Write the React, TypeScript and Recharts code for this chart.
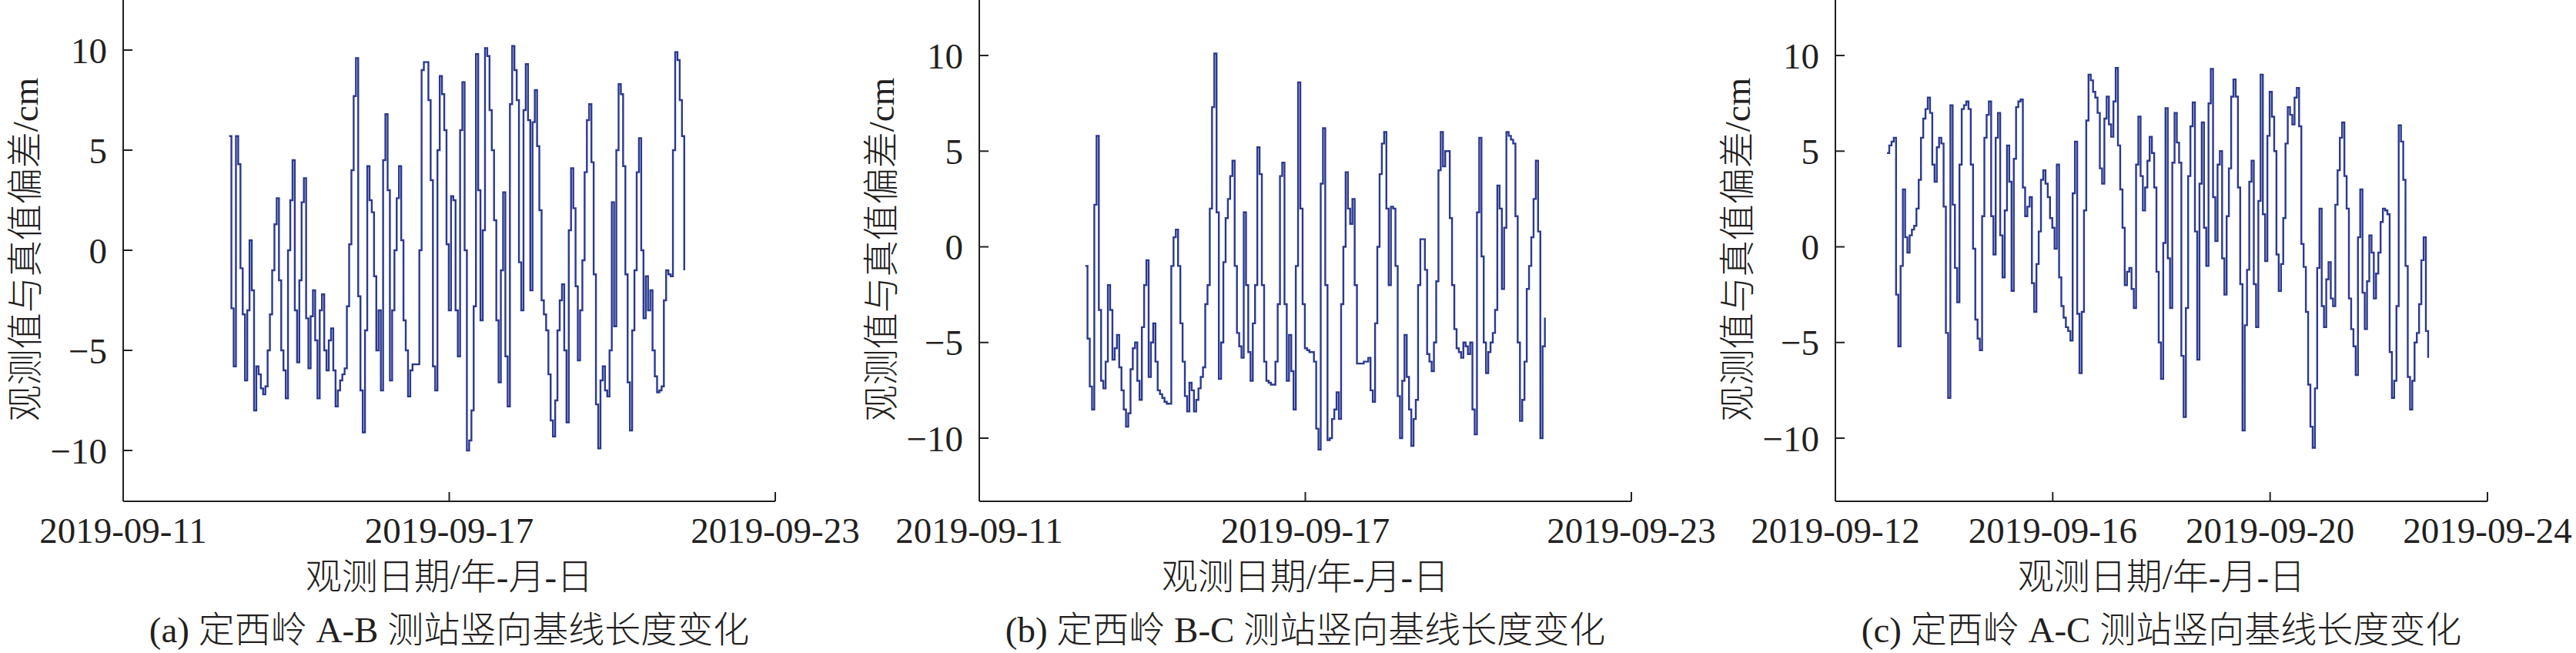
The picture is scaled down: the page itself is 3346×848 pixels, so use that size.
import { LineChart, Line, XAxis, YAxis } from "recharts"

// hourly deviations (cm), first epoch ~2019-09-12 22:50
const START_DAY = 1.95 // days after 2019-09-11 00:00

const abValues = [
  5.7, -2.9, -5.8, 5.7, 4.3, -0.9, -3.2, -6.5, -3.0, 0.5,
  -2.0, -8.0, -5.8, -6.2, -6.9, -7.2, -6.8, -5.0, -3.2, -1.0,
  1.3, 2.6, -1.5, -5.0, -6.0, -7.4, 0.0, 2.5, 4.5, -3.0,
  -5.6, -1.5, 2.4, 3.6, -3.4, -5.9, -3.3, -2.0, -4.5, -7.4,
  -3.0, -2.2, -5.0, -6.0, -4.5, -3.9, -6.0, -7.8, -7.0, -6.5,
  -6.2, -5.9, -2.8, 0.3, 4.0, 7.7, 9.6, -2.3, -7.0, -9.1,
  -4.0, 4.2, 2.5, 1.9, -1.3, -5.0, -3.0, -7.0, 4.5, 6.8,
  3.0, -6.5, -3.0, 0.0, 2.6, 4.2, 0.5, -3.5, -5.0, -7.3,
  -6.0, -5.7, -5.7, -5.7, 0.0, 9.0, 9.4, 9.4, 7.5, 3.5,
  -5.8, -7.0, 5.0, 8.7, 7.8, 6.0, 0.3, -3.0, 2.7, 2.5,
  -3.0, -5.3, 6.0, 8.4, 0.0, -10.0, -9.5, -8.0, -2.8, 9.8,
  3.0, -3.5, 1.0, 10.1, 9.7, 7.0, 5.0, 1.5, -3.5, -6.6,
  -1.0, 2.9, -5.3, -7.8, 7.3, 10.2, 9.0, 7.5, -0.6, -3.0,
  7.0, 9.3, 6.5, -2.0, 6.4, 8.0, 5.2, 2.0, -2.5, -3.2,
  -4.0, -6.2, -8.5, -9.3, -7.5, -4.0, -2.5, -1.7, -5.0, -8.6,
  1.0, 4.1, 2.1, -1.8, -5.5, -3.0, -0.5, 3.9, 6.5, 7.3,
  4.4, -1.2, -7.7, -9.9, -6.5, -5.8, -7.0, -7.3, -5.0, 2.4,
  -3.8, 5.0, 8.3, 7.8, 4.2, -1.2, -6.6, -9.0, -4.0, -1.0,
  3.9, 5.6, 0.0, -3.4, -1.3, -3.0, -2.0, -5.0, -6.3, -7.1,
  -7.0, -6.8, -2.5, -1.0, -1.2, -1.3, 5.0, 9.9, 9.5, 7.5,
  5.7, -1.0,
]

const bcValues = [
  -1.0, -4.8, -7.3, -8.5, 2.2, 5.8, -3.3, -7.0, -7.4, -6.0,
  -2.0, -3.3, -5.9, -5.3, -4.6, -6.3, -7.5, -8.5, -9.4, -8.7,
  -6.4, -5.3, -5.0, -7.0, -8.0, -4.2, -2.0, -0.7, -6.8, -5.0,
  -4.0, -6.0, -7.5, -7.7, -7.9, -8.1, -8.2, -8.2, -1.0, 0.5,
  0.9, -1.0, -4.0, -6.0, -7.8, -8.6, -7.1, -7.5, -8.6, -8.0,
  -7.4, -6.8, -6.3, -3.0, -2.0, 2.0, 7.3, 10.1, 1.8, -6.9,
  -5.0, -0.8, 1.5, 2.5, 3.7, 4.5, -1.0, -4.5, -5.2, -5.8,
  1.8, -2.0, -5.5, -7.0, -4.0, -2.0, 5.2, 3.8, -2.0, -6.0,
  -7.0, -7.1, -7.2, -7.2, -6.0, -3.0, 3.7, 4.4, -3.0, -7.0,
  -4.6, -6.5, -8.5, -1.0, 8.6, 2.0, -3.0, -5.3, -5.4, -5.5,
  -5.5, -6.0, -9.5, -10.6, 3.3, 6.2, -2.0, -10.1, -10.0, -9.0,
  -8.5, -7.6, -9.0, -3.0, 0.0, 3.9, 2.0, 1.2, 2.5, -2.0,
  -6.1, -6.1, -6.1, -6.0, -6.0, -5.8, -7.5, -8.1, -4.0, 0.0,
  3.8, 5.4, 6.0, 2.0, -2.0, 2.1, 2.0, -1.0, -7.8, -10.0,
  -7.0, -4.6, -6.8, -8.5, -10.4, -9.0, -8.0, -2.0, 0.4, 0.4,
  -1.2, -5.6, -6.0, -6.5, -5.0, -1.8, 4.0, 6.0, 4.2, 5.0,
  5.0, 1.5, -2.0, -4.3, -5.3, -5.5, -5.8, -5.0, -5.2, -5.6,
  -5.0, -8.5, -9.8, 1.8, 5.7, -0.5, -5.0, -6.6, -5.5, -5.0,
  -4.5, -3.3, 3.2, 2.0, -2.2, 1.0, 6.0, 5.8, 5.6, 5.4,
  1.6, -5.0, -9.1, -8.0, -6.0, -2.2, -1.0, 0.5, 2.5, 4.5,
  0.8, -10.0, -5.2, -3.7,
]

const acValues = [
  4.9, 5.3, 5.5, 5.7, -2.5, -5.2, -1.0, 3.0, 0.5, -0.3,
  0.6, 0.9, 1.1, 2.0, 3.5, 5.7, 6.7, 7.2, 7.8, 7.0,
  4.3, 3.4, 5.2, 5.7, 5.4, 2.1, -4.5, -7.9, 7.4, 2.2,
  -1.1, -2.9, 4.3, 7.2, 7.4, 7.6, 7.2, 4.3, -0.1, -3.8,
  -4.8, -5.4, 1.6, 5.7, 6.9, 7.6, 1.6, -0.4, 5.7, 7.0,
  0.6, -1.6, 1.9, 5.3, 3.4, -2.3, 4.6, 7.3, 7.6, 7.7,
  3.1, 1.6, 2.1, 2.6, -1.9, -3.4, -0.9, 0.8, 3.5, 4.0,
  3.3, 2.6, 1.5, 1.0, -0.1, 4.3, -1.6, -3.1, -3.7, -4.2,
  -4.4, -4.9, 2.8, 5.5, -3.5, -6.6, -3.4, 1.9, 6.6, 9.0,
  8.7, 8.1, 7.8, 7.0, 4.1, 3.3, 6.7, 7.85, 6.4, 5.75,
  7.6, 9.35, 5.3, 3.0, 1.0, -2.0, -1.3, -1.1, -2.2, -3.2,
  4.3, 6.8, 3.7, 1.9, 3.1, 4.5, 5.75, 4.9, 3.1, -1.3,
  -5.0, -6.9, 0.2, 7.25, -0.6, -3.2, 4.4, 7.0, 5.45, 4.4,
  -5.7, -8.9, -3.2, 3.7, 6.3, 7.55, 0.8, -5.9, 3.3, 6.5,
  1.0, -1.0, 7.5, 9.3, 2.6, 0.3, 4.3, 5.0, -0.6, -2.5,
  1.6, 4.1, 7.85, 8.75, 7.85, 3.1, -1.95, -9.6, -4.1, -1.2,
  3.4, 4.5, -1.95, -4.2, 2.4, 9.0, 1.7, -0.75, 5.8, 8.1,
  6.8, 5.0, -0.4, -2.3, -0.9, 1.5, 5.4, 7.3, 6.9, 6.4,
  7.8, 8.3, 6.3, 0.15, -1.05, -3.4, -7.2, -9.4, -10.5, -7.4,
  -1.1, 2.0, -3.1, -4.2, -1.7, -0.8, -2.7, -3.1, 2.2, 4.0,
  5.7, 6.5, 3.7, 2.0, -2.7, -4.3, -5.2, -6.7, 0.5, 3.0,
  -2.4, -4.3, -1.8, 0.6, -0.3, -2.7, -1.4, -0.3, 1.3, 2.0,
  1.9, 1.7, -5.5, -7.9, -7.0, -3.1, 6.35, 5.5, 3.5, -1.0,
  -6.8, -8.5, -7.0, -5.0, -4.5, -3.0, -0.7, 0.5, -4.4, -5.8,
]

// x ticks, in days after 2019-09-11
const abTicks = [0, 6, 12]
const abTickLabels = ["2019-09-11", "2019-09-17", "2019-09-23"]
const acTicks = [1, 5, 9, 13]
const acTickLabels = ["2019-09-12", "2019-09-16", "2019-09-20", "2019-09-24"]
const yTicks = [-10, -5, 0, 5, 10]

const yTitle = "观测值与真值偏差/cm"
const xTitle = "观测日期/年-月-日"
const captions = [
  "(a) 定西岭 A-B 测站竖向基线长度变化",
  "(b) 定西岭 B-C 测站竖向基线长度变化",
  "(c) 定西岭 A-C 测站竖向基线长度变化",
]

const LINE = "#2b3990"
const INK = "#231f20"
const FONT = '"Liberation Serif", "Noto Sans CJK SC", serif'
const FS = 47

function Panel({ left, values, xDomain, xTicks, xLabels, yDomain }: any) {
  const data = values.map((v: number, i: number) => ({ t: START_DAY + i / 24, v }))
  return (
    <div style={{ position: "absolute", left, top: 0 }}>
      <LineChart width={1160} height={848} data={data} margin={{ top: 0, right: 153, bottom: 0, left: 0 }}>
        <XAxis
          dataKey="t"
          type="number"
          domain={xDomain}
          ticks={xTicks}
          interval={0}
          allowDataOverflow
          height={197}
          tickSize={-12}
          tickMargin={33}
          tickFormatter={(t: number) => xLabels[xTicks.indexOf(t)]}
          axisLine={{ stroke: INK, strokeWidth: 2 }}
          tickLine={{ stroke: INK, strokeWidth: 2 }}
          tick={{ fill: INK, fontSize: FS, fontFamily: FONT }}
        />
        <YAxis
          type="number"
          domain={yDomain}
          ticks={yTicks}
          interval={0}
          allowDataOverflow
          width={160}
          tickSize={-12}
          tickMargin={33}
          tickFormatter={(v: number) => (v < 0 ? "\u2212" + Math.abs(v) : String(v))}
          axisLine={{ stroke: INK, strokeWidth: 2 }}
          tickLine={{ stroke: INK, strokeWidth: 2 }}
          tick={{ fill: INK, fontSize: FS, fontFamily: FONT }}
        />
        <Line type="stepAfter" dataKey="v" stroke={LINE} strokeWidth={2.4} dot={false} isAnimationActive={false} />
      </LineChart>
    </div>
  )
}

export default function App() {
  const plotLefts = [160, 1272, 2384]
  const centers = plotLefts.map((l) => l + 847 / 2)
  return (
    <div style={{ position: "absolute", left: 0, top: 0, width: 3346, height: 848, background: "#fff", overflow: "hidden" }}>
      <Panel left={0} values={abValues} xDomain={[0, 12]} xTicks={abTicks} xLabels={abTickLabels} yDomain={[-12.54, 12.5]} />
      <Panel left={1112} values={bcValues} xDomain={[0, 12]} xTicks={abTicks} xLabels={abTickLabels} yDomain={[-13.3, 12.9]} />
      <Panel left={2224} values={acValues} xDomain={[1, 13]} xTicks={acTicks} xLabels={acTickLabels} yDomain={[-13.3, 12.9]} />
      <svg width={3346} height={848} style={{ position: "absolute", left: 0, top: 0, pointerEvents: "none" }}>
        <g fill={INK} fontFamily={FONT} fontSize={FS} fontWeight={300} textAnchor="middle">
          {plotLefts.map((l, i) => (
            <g key={i}>
              <text x={l - 128} y={324} dy={17} transform={`rotate(-90 ${l - 128} 324)`}>
                {yTitle}
              </text>
              <text x={centers[i]} y={765}>{xTitle}</text>
              <text x={centers[i]} y={834}>{captions[i]}</text>
            </g>
          ))}
        </g>
      </svg>
    </div>
  )
}
